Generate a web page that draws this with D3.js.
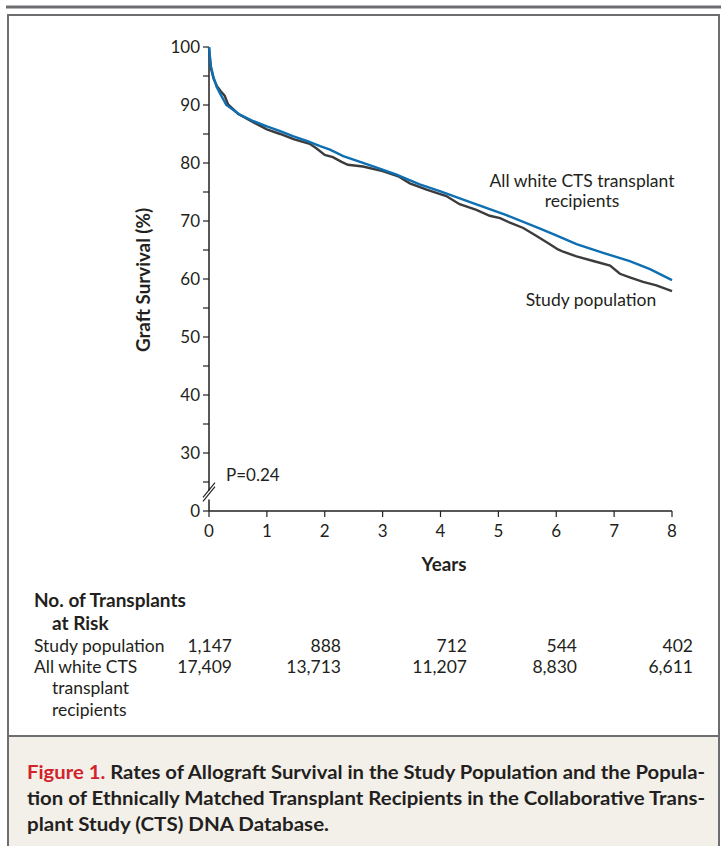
<!DOCTYPE html>
<html>
<head>
<meta charset="utf-8">
<script src="https://cdn.jsdelivr.net/npm/d3@7.9.0/dist/d3.min.js"></script>
<style>
  body { margin: 0; background: #fff; }
  svg { display: block; }
  text { font-family: Lato, "Open Sans", sans-serif; fill: #231f20; }
</style>
</head>
<body>
<svg id="chart" width="721" height="846"></svg>
<script>
// years of follow-up and graft survival (%)
const studyYears = [0, 0.03, 0.08, 0.14, 0.2, 0.27, 0.33, 0.5, 0.77, 1.0, 1.23, 1.46, 1.74, 1.86, 2.0, 2.14, 2.29, 2.4, 2.66, 3.0, 3.27, 3.47, 3.76, 4.1, 4.33, 4.62, 4.85, 5.03, 5.2, 5.43, 5.66, 5.89, 6.03, 6.12, 6.35, 6.64, 6.93, 7.1, 7.27, 7.5, 7.73, 8.0];
const studySurv = [100, 96.5, 94.5, 93.2, 92.4, 91.6, 90.1, 88.5, 87.0, 85.8, 85.0, 84.1, 83.3, 82.5, 81.4, 81.0, 80.2, 79.7, 79.4, 78.6, 77.7, 76.5, 75.4, 74.3, 72.9, 71.9, 70.9, 70.5, 69.7, 68.8, 67.4, 66.0, 65.1, 64.7, 63.9, 63.1, 62.3, 60.9, 60.3, 59.5, 58.9, 57.9];

const whiteYears = [0, 0.03, 0.075, 0.13, 0.19, 0.3, 0.54, 0.77, 1.0, 1.23, 1.46, 1.69, 1.92, 2.09, 2.32, 2.9, 3.24, 3.64, 4.0, 4.56, 5.14, 5.72, 6.03, 6.35, 6.81, 7.27, 7.62, 8.0];
const whiteSurv = [100, 96.8, 94.9, 93.2, 92.0, 90.0, 88.3, 87.2, 86.3, 85.5, 84.6, 83.8, 82.9, 82.3, 81.2, 79.2, 78.0, 76.3, 75.1, 73.1, 71.0, 68.7, 67.4, 66.0, 64.5, 63.1, 61.7, 59.8];

const xTicks = [0, 1, 2, 3, 4, 5, 6, 7, 8];
const yMajor = [30, 40, 50, 60, 70, 80, 90, 100];
const yMinor = [25, 35, 45, 55, 65, 75, 85, 95];

const riskYears = [0, 2, 4, 6, 8];
const riskStudy = ['1,147', '888', '712', '544', '402'];
const riskWhite = ['17,409', '13,713', '11,207', '8,830', '6,611'];

const svg = d3.select('#chart');

// outer frame and caption panel
svg.append('line').attr('x1', 6).attr('x2', 721).attr('y1', 7).attr('y2', 7)
  .attr('stroke', '#6d6e71').attr('stroke-width', 3);
svg.append('rect').attr('x', 8).attr('y', 15).attr('width', 711).attr('height', 840)
  .attr('fill', 'none').attr('stroke', '#6d6e71').attr('stroke-width', 2);
svg.append('rect').attr('x', 9).attr('y', 736).attr('width', 709).attr('height', 120)
  .attr('fill', '#f3f0ea');
svg.append('line').attr('x1', 8).attr('x2', 719).attr('y1', 736).attr('y2', 736)
  .attr('stroke', '#6d6e71').attr('stroke-width', 2);

const x = d3.scaleLinear().domain([0, 8]).range([209, 672]);
// the axis is broken below 30; the "0" sits where 20 would be
const y = d3.scaleLinear().domain([20, 100]).range([511, 47]);

const g = svg.append('g');

// y axis line with break
g.append('line').attr('x1', x(0)).attr('x2', x(0)).attr('y1', y(100)).attr('y2', y(23.5))
  .attr('stroke', '#231f20').attr('stroke-width', 1.5);
g.append('line').attr('x1', x(0)).attr('x2', x(0)).attr('y1', y(22)).attr('y2', y(20))
  .attr('stroke', '#231f20').attr('stroke-width', 1.5);
[0, 4].forEach(off => {
  g.append('line')
    .attr('x1', x(0) - 6).attr('y1', y(22) + 2 - off)
    .attr('x2', x(0) + 6).attr('y2', y(24.2) - off)
    .attr('stroke', '#231f20').attr('stroke-width', 1.2);
});

// y ticks
yMajor.concat(yMinor).concat([20]).forEach(v => {
  g.append('line').attr('x1', x(0) - 6).attr('x2', x(0)).attr('y1', y(v)).attr('y2', y(v))
    .attr('stroke', '#231f20').attr('stroke-width', 1.2);
});
g.selectAll('.ylab').data(yMajor.concat([20])).enter().append('text')
  .attr('x', x(0) - 9).attr('y', d => y(d)).attr('dy', '0.35em')
  .attr('text-anchor', 'end').attr('font-size', 17)
  .text(d => d === 20 ? '0' : d);

// x axis
g.append('line').attr('x1', x(0)).attr('x2', x(8)).attr('y1', y(20)).attr('y2', y(20))
  .attr('stroke', '#231f20').attr('stroke-width', 1.5);
xTicks.forEach(t => {
  g.append('line').attr('x1', x(t)).attr('x2', x(t)).attr('y1', y(20)).attr('y2', y(20) + 6)
    .attr('stroke', '#231f20').attr('stroke-width', 1.2);
});
g.selectAll('.xlab').data(xTicks).enter().append('text')
  .attr('x', d => x(d)).attr('y', 537).attr('text-anchor', 'middle').attr('font-size', 17)
  .text(d => d);

g.append('text').attr('x', 444).attr('y', 571).attr('text-anchor', 'middle')
  .attr('font-size', 18.8).attr('font-weight', 'bold').text('Years');
g.append('text').attr('transform', 'translate(150,280) rotate(-90)')
  .attr('text-anchor', 'middle').attr('font-size', 18.8).attr('font-weight', 'bold')
  .text('Graft Survival (%)');

// curves
const line = d3.line().x(d => x(d[0])).y(d => y(d[1]));
g.append('path').datum(d3.zip(studyYears, studySurv)).attr('d', line)
  .attr('fill', 'none').attr('stroke', '#3c3c3c').attr('stroke-width', 2.4);
g.append('path').datum(d3.zip(whiteYears, whiteSurv)).attr('d', line)
  .attr('fill', 'none').attr('stroke', '#0d6fb2').attr('stroke-width', 2.4);

// annotations
g.append('text').attr('x', 582).attr('y', 187).attr('text-anchor', 'middle').attr('font-size', 17.5)
  .text('All white CTS transplant');
g.append('text').attr('x', 582).attr('y', 207).attr('text-anchor', 'middle').attr('font-size', 17.5)
  .text('recipients');
g.append('text').attr('x', 591).attr('y', 306).attr('text-anchor', 'middle').attr('font-size', 17.5)
  .text('Study population');
g.append('text').attr('x', 226).attr('y', 481).attr('font-size', 17).text('P=0.24');

// number at risk table
const tbl = svg.append('g').attr('font-size', 17.5);
tbl.append('text').attr('x', 34).attr('y', 607).attr('font-weight', 'bold').attr('font-size', 19)
  .text('No. of Transplants');
tbl.append('text').attr('x', 52).attr('y', 630).attr('font-weight', 'bold').attr('font-size', 19)
  .text('at Risk');
tbl.append('text').attr('x', 34).attr('y', 652).text('Study population');
tbl.append('text').attr('x', 34).attr('y', 673).text('All white CTS');
tbl.append('text').attr('x', 52).attr('y', 694).text('transplant');
tbl.append('text').attr('x', 52).attr('y', 716).text('recipients');

const riskX = d3.scaleOrdinal().domain(riskYears).range([232, 341, 467, 577, 693]);
tbl.selectAll('.rs').data(riskStudy).enter().append('text')
  .attr('x', (d, i) => riskX(riskYears[i])).attr('y', 652).attr('text-anchor', 'end').text(d => d);
tbl.selectAll('.rw').data(riskWhite).enter().append('text')
  .attr('x', (d, i) => riskX(riskYears[i])).attr('y', 673).attr('text-anchor', 'end').text(d => d);

// caption
const cap = svg.append('g').attr('font-size', 19).attr('font-weight', 'bold');
const l1 = cap.append('text').attr('x', 27).attr('y', 779)
  .attr('textLength', 678).attr('lengthAdjust', 'spacingAndGlyphs');
l1.append('tspan').attr('fill', '#d2232a').text('Figure 1. ');
l1.append('tspan').text('Rates of Allograft Survival in the Study Population and the Popula-');
cap.append('text').attr('x', 27).attr('y', 805)
  .attr('textLength', 678).attr('lengthAdjust', 'spacingAndGlyphs')
  .text('tion of Ethnically Matched Transplant Recipients in the Collaborative Trans-');
cap.append('text').attr('x', 27).attr('y', 831)
  .attr('textLength', 302).attr('lengthAdjust', 'spacingAndGlyphs')
  .text('plant Study (CTS) DNA Database.');
</script>
</body>
</html>
